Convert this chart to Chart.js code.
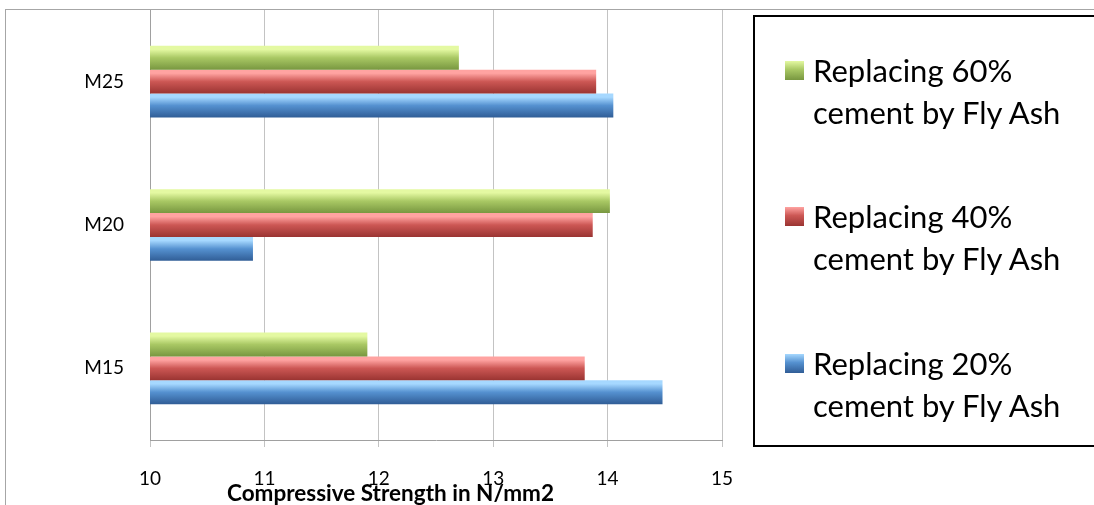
<!DOCTYPE html>
<html>
<head>
<meta charset="utf-8">
<script src="https://cdn.jsdelivr.net/npm/chart.js@4/dist/chart.umd.min.js"></script>
<style>
  html, body { margin: 0; padding: 0; background: #fff; }
  #wrap { position: relative; width: 1094px; height: 505px; overflow: hidden; font-family: Lato, "Open Sans", sans-serif; }
  #frame { position: absolute; left: 5px; top: 9px; width: 1200px; height: 600px; border-left: 1px solid #a6a6a6; border-top: 1px solid #a6a6a6; }
  #chart { position: absolute; left: 0; top: 0; }
  #xtitle { position: absolute; left: 227px; top: 479px; font-weight: bold; font-size: 22.5px; color: #000; white-space: nowrap; }
  #legend { position: absolute; left: 753px; top: 15px; width: 360px; height: 428px; border: 2px solid #000; }
  .item { position: absolute; left: 30px; font-size: 31px; line-height: 42px; color: #000; white-space: nowrap; }
  .item .sw { position: absolute; left: 0; top: 12px; width: 19px; height: 19px; }
  .item .txt { margin-left: 28px; }
</style>
</head>
<body>
<div id="wrap">
  <div id="frame"></div>
  <canvas id="chart" width="1094" height="505"></canvas>
  <div id="xtitle"></div>
  <div id="legend"></div>
</div>
<script>
"use strict";

const categories = ["M25", "M20", "M15"];
const seriesNames = [
  ["Replacing 60%", "cement by Fly Ash"],
  ["Replacing 40%", "cement by Fly Ash"],
  ["Replacing 20%", "cement by Fly Ash"],
];
const fly60 = [12.7, 14.02, 11.9];
const fly40 = [13.9, 13.87, 13.8];
const fly20 = [14.05, 10.9, 14.48];
const xTicks = [10, 11, 12, 13, 14, 15];
const xTitle = "Compressive Strength in N/mm2";

// light top, mid, darker bottom for each bar
const shades = [
  ["#e4f9a2", "#a9c864", "#789740"],
  ["#ffa3a1", "#cc5754", "#9a3432"],
  ["#a6d8ff", "#5591d0", "#305d96"],
];

const $ = (id) => document.getElementById(id);

function grad(ctx, y0, y1, s) {
  const g = ctx.createLinearGradient(0, y0, 0, y1);
  g.addColorStop(0, s[0]);
  g.addColorStop(0.15, s[0]);
  g.addColorStop(0.5, s[1]);
  g.addColorStop(1, s[2]);
  return g;
}

// shade each bar top to bottom, like the office 3D look
const bevel = {
  id: "bevel",
  beforeDatasetsDraw(chart) {
    const ctx = chart.ctx;
    chart.data.datasets.forEach((ds, i) => {
      chart.getDatasetMeta(i).data.forEach((el) => {
        const h = el.height;
        el.options = Object.assign({}, el.options, {
          backgroundColor: grad(ctx, el.y - h / 2, el.y + h / 2, shades[i]),
        });
      });
    });
  },
};

const font = { family: "Lato, 'Open Sans', sans-serif", size: 19 };

new Chart($("chart"), {
  type: "bar",
  data: {
    labels: categories,
    datasets: [fly60, fly40, fly20].map((d, i) => ({
      label: seriesNames[i].join(" "),
      data: d,
      backgroundColor: shades[i][1],
      borderWidth: 0,
      categoryPercentage: 0.5,
      barPercentage: 1.0,
    })),
  },
  options: {
    indexAxis: "y",
    responsive: false,
    animation: false,
    events: [],
    layout: { padding: { top: 10, right: 372, left: 0, bottom: 0 } },
    plugins: { legend: { display: false }, tooltip: { enabled: false } },
    scales: {
      x: {
        min: 10,
        max: 15,
        afterBuildTicks: (s) => { s.ticks = xTicks.map((v) => ({ value: v })); },
        afterFit: (s) => { s.height = 65; s.paddingLeft = 0; s.paddingRight = 0; },
        ticks: { color: "#000", font, padding: 20 },
        grid: { color: "#c3c3c3", tickLength: 7, drawTicks: true },
        border: { color: "#a0a0a0" },
      },
      y: {
        afterFit: (s) => { s.width = 150; s.paddingTop = 0; s.paddingBottom = 0; },
        ticks: { color: "#000", font, padding: 18 },
        grid: { display: false },
        border: { color: "#a0a0a0" },
      },
    },
  },
  plugins: [bevel],
});

$("xtitle").textContent = xTitle;

const tops = [32, 178, 325];
$("legend").innerHTML = seriesNames
  .map(
    (n, i) =>
      `<div class="item" style="top:${tops[i]}px"><div class="sw" style="background:linear-gradient(${shades[i][0]},${shades[i][1]} 45%,${shades[i][2]})"></div><div class="txt">${n[0]}<br>${n[1]}</div></div>`
  )
  .join("");
</script>
</body>
</html>
